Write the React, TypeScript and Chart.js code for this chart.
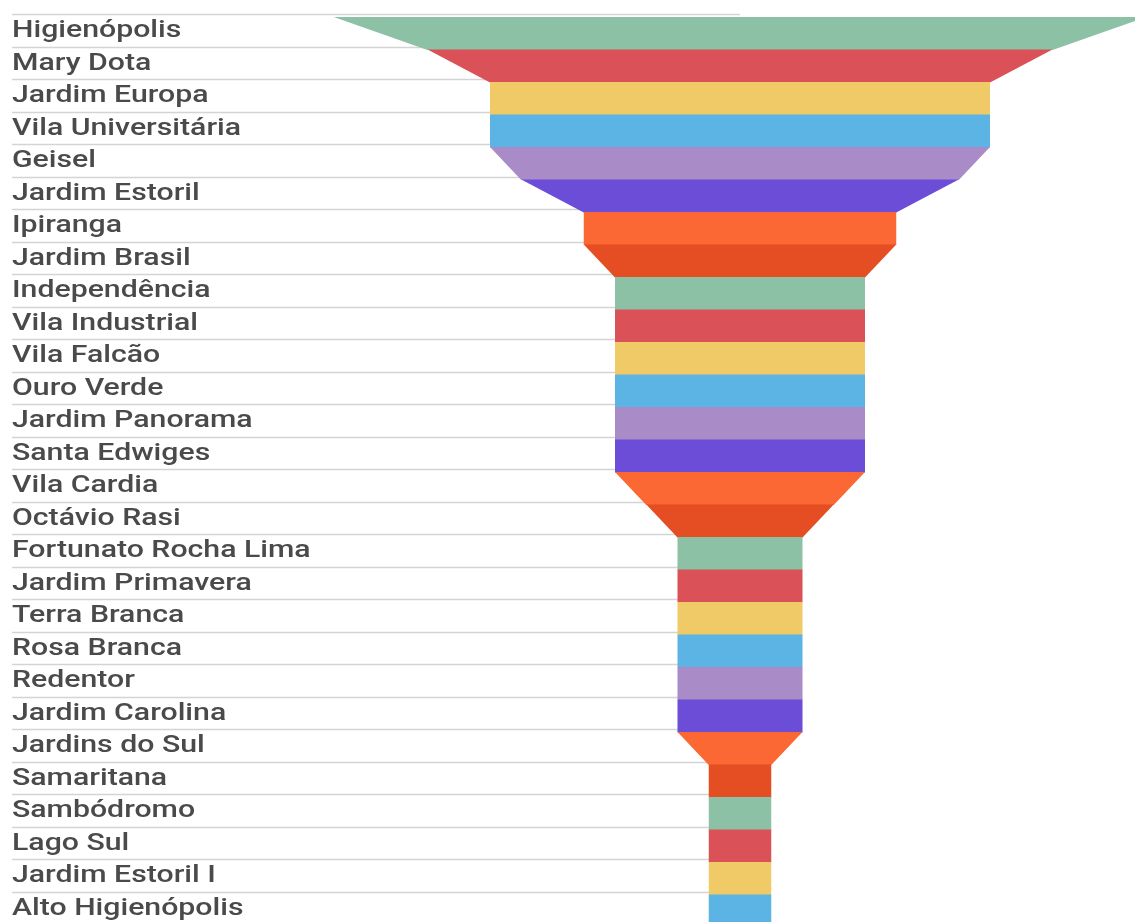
import React, { useEffect, useRef } from 'react';
import { Chart, registerables } from 'chart.js';

Chart.register(...registerables);

// ---- data ----
const neighborhoods: string[] = [
  'Higienópolis',
  'Mary Dota',
  'Jardim Europa',
  'Vila Universitária',
  'Geisel',
  'Jardim Estoril',
  'Ipiranga',
  'Jardim Brasil',
  'Independência',
  'Vila Industrial',
  'Vila Falcão',
  'Ouro Verde',
  'Jardim Panorama',
  'Santa Edwiges',
  'Vila Cardia',
  'Octávio Rasi',
  'Fortunato Rocha Lima',
  'Jardim Primavera',
  'Terra Branca',
  'Rosa Branca',
  'Redentor',
  'Jardim Carolina',
  'Jardins do Sul',
  'Samaritana',
  'Sambódromo',
  'Lago Sul',
  'Jardim Estoril I',
  'Alto Higienópolis',
];

const counts: number[] = [
  13, 10, 8, 8, 8, 7, 5, 5, 4, 4, 4, 4, 4, 4, 4, 3, 2, 2, 2, 2, 2, 2, 2, 1, 1, 1, 1, 1,
];

const palette: string[] = [
  '#8cc1a5',
  '#da5157',
  '#efca67',
  '#5cb4e4',
  '#a98cc7',
  '#6b4dd7',
  '#fb6834',
  '#e54d23',
];

// ---- styling constants ----
const X_HALF_RANGE = 6.32;
const FUNNEL_SHIFT = 3;
const LABEL_STRETCH = 1.26;
const LABEL_DROP = 1;

const funnelPlugin = {
  id: 'funnelShapes',
  afterLayout(chart: any) {
    const s = chart.scales.y;
    if (s && !s.__stretched) {
      const orig = s.drawLabels.bind(s);
      s.drawLabels = (area: any) => {
        const ctx = chart.ctx;
        ctx.save();
        ctx.translate(s.left, LABEL_DROP);
        ctx.scale(LABEL_STRETCH, 1);
        ctx.translate(-s.left, 0);
        orig(area);
        ctx.restore();
      };
      s.__stretched = true;
    }
  },
  beforeDatasetsDraw(chart: any) {
    const ctx = chart.ctx;
    const y = chart.scales.y;
    const x = chart.scales.x;
    ctx.save();
    ctx.strokeStyle = '#d4d4d4';
    ctx.lineWidth = 1.5;
    const left = y.left;
    const right = x.getPixelForValue(0);
    for (let i = 0; i <= neighborhoods.length; i++) {
      const py = Math.round(y.getPixelForValue(i - 0.5)) + 0.5;
      ctx.beginPath();
      ctx.moveTo(left, py);
      ctx.lineTo(right, py);
      ctx.stroke();
    }
    ctx.restore();
  },
  beforeDatasetDraw(chart: any, args: any) {
    const ctx = chart.ctx;
    const els = args.meta.data;
    ctx.save();
    els.forEach((el: any, i: number) => {
      const p = el.getProps(['x', 'y', 'base', 'height'], true);
      const nx = els[i + 1] ? els[i + 1].getProps(['x', 'base'], true) : p;
      const top = p.y - p.height / 2 + FUNNEL_SHIFT;
      const bottom = p.y + p.height / 2 + FUNNEL_SHIFT + 0.6;
      ctx.fillStyle = el.options.backgroundColor;
      ctx.beginPath();
      ctx.moveTo(p.base, top);
      ctx.lineTo(p.x, top);
      ctx.lineTo(nx.x, bottom);
      ctx.lineTo(nx.base, bottom);
      ctx.closePath();
      ctx.fill();
    });
    ctx.restore();
    return false;
  },
};

export default function App() {
  const canvasRef = useRef<HTMLCanvasElement | null>(null);

  useEffect(() => {
    if (!canvasRef.current) return;
    const chart = new Chart(canvasRef.current, {
      type: 'bar',
      data: {
        labels: neighborhoods,
        datasets: [
          {
            label: 'Bairros',
            data: counts.map((v) => [-v / 2, v / 2]) as any,
            backgroundColor: neighborhoods.map((_, i) => palette[i % palette.length]),
            barPercentage: 1,
            categoryPercentage: 1,
            borderWidth: 0,
          },
        ],
      },
      options: {
        indexAxis: 'y',
        responsive: false,
        animation: false,
        events: [],
        layout: { padding: { left: 12, top: 14, right: 0, bottom: 0 } },
        plugins: {
          legend: { display: false },
          tooltip: { enabled: false },
          title: { display: false },
        },
        scales: {
          x: {
            type: 'linear',
            display: false,
            min: -X_HALF_RANGE,
            max: X_HALF_RANGE,
          },
          y: {
            type: 'category',
            offset: true,
            grid: { display: false },
            border: { display: false },
            ticks: {
              autoSkip: false,
              crossAlign: 'far',
              padding: 0,
              color: '#4a4a4a',
              font: { family: 'Roboto', size: 24, weight: '500' },
            },
            afterFit(scale: any) {
              scale.width = 333;
              scale.paddingTop = 0;
              scale.paddingBottom = 0;
            },
          },
        },
      } as any,
      plugins: [funnelPlugin],
    });
    return () => chart.destroy();
  }, []);

  return (
    <div
      style={{
        position: 'fixed',
        left: 0,
        top: 0,
        width: 1135,
        height: 922,
        overflow: 'hidden',
        background: '#ffffff',
      }}
    >
      <canvas ref={canvasRef} width={1135} height={924} style={{ display: 'block' }} />
    </div>
  );
}
